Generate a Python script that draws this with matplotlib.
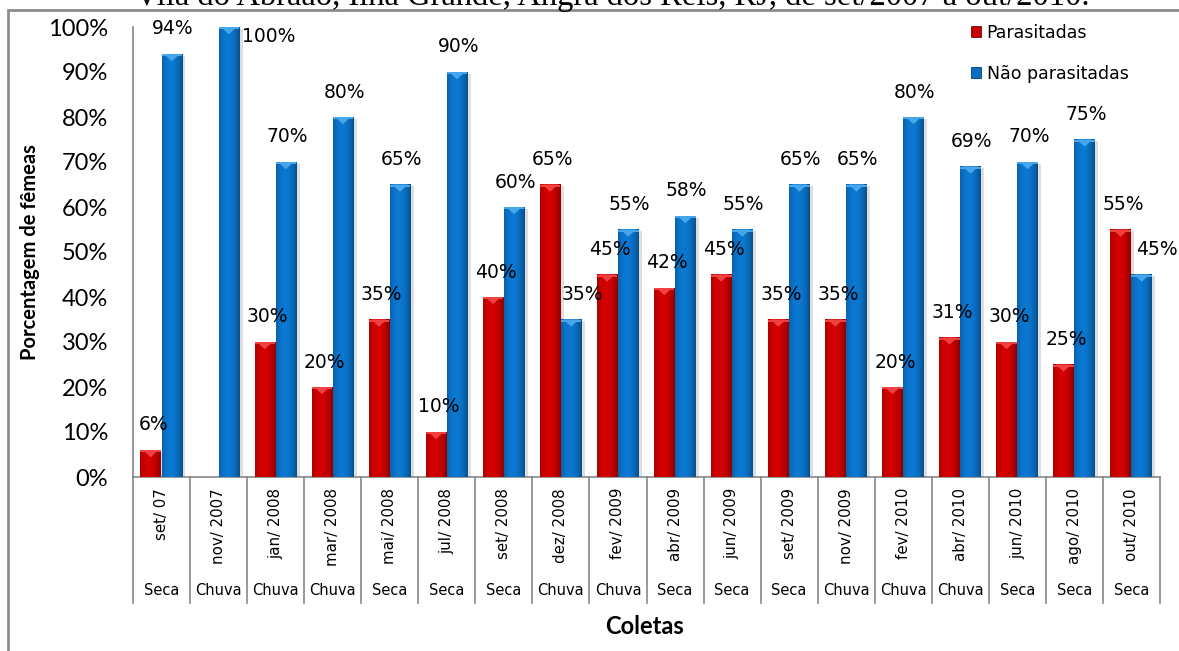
import numpy as np
import matplotlib
matplotlib.use("Agg")
import matplotlib.pyplot as plt
import matplotlib.colors as mcolors
from matplotlib.patches import Rectangle, Polygon
from matplotlib.transforms import blended_transform_factory

# ---- data ----
coletas = ["set/ 07", "nov/ 2007", "jan/ 2008", "mar/ 2008", "mai/ 2008", "jul/ 2008",
           "set/ 2008", "dez/ 2008", "fev/ 2009", "abr/ 2009", "jun/ 2009", "set/ 2009",
           "nov/ 2009", "fev/ 2010", "abr/ 2010", "jun/ 2010", "ago/ 2010", "out/ 2010"]
estacao = ["Seca", "Chuva", "Chuva", "Chuva", "Seca", "Seca", "Seca", "Chuva", "Chuva",
           "Seca", "Seca", "Seca", "Chuva", "Chuva", "Chuva", "Seca", "Seca", "Seca"]
parasitadas = [6, 0, 30, 20, 35, 10, 40, 65, 45, 42, 45, 35, 35, 20, 31, 30, 25, 55]
nao_parasitadas = [94, 100, 70, 80, 65, 90, 60, 35, 55, 58, 55, 65, 65, 80, 69, 70, 75, 45]
y_ticks = [0, 10, 20, 30, 40, 50, 60, 70, 80, 90, 100]
series_names = ["Parasitadas", "Não parasitadas"]
titulo = "Vila do Abraão, Ilha Grande, Angra dos Reis, RJ, de set/2007 a out/2010."

RED, RED_CAP = "#C40000", "#F04040"
BLUE, BLUE_CAP = "#0A6FC2", "#45A6EC"
GRAY = "#878787"
LABEL_FONT = "DejaVu Sans"
AXIS_FONT = "Lato"

W, H = 1179, 651
fig = plt.figure(figsize=(W / 100, H / 100), dpi=100)
ax = fig.add_axes([133 / W, (H - 477) / H, (1160 - 133) / W, 450 / H])
trans_xa = blended_transform_factory(ax.transData, ax.transAxes)

x = np.arange(len(coletas))
bw = 0.36
bars_r = ax.bar(x - 0.19, parasitadas, bw, color=RED, linewidth=0, zorder=3)
bars_b = ax.bar(x + 0.18, nao_parasitadas, bw, color=BLUE, linewidth=0, zorder=3)


def shade(rect, base, cap):
    """Give a bar a rounded, bevelled look: horizontal gradient, top cap and soft shadow."""
    x0, w, h = rect.get_x(), rect.get_width(), rect.get_height()
    if h <= 0:
        return
    ax.add_patch(Rectangle((x0 + 0.06, 0), w, h - 0.4, color="black", alpha=0.13,
                           linewidth=0, zorder=2))
    p = np.linspace(-1, 1, 64)
    f = 0.80 + 0.28 * (1 - np.abs(p + 0.15) ** 2)
    rgb = np.clip(np.array(mcolors.to_rgb(base))[None, :] * f[:, None], 0, 1)
    img = np.concatenate([rgb, np.ones((64, 1))], axis=1)[None, :, :]
    ax.imshow(img, extent=(x0, x0 + w, 0, h), aspect="auto", interpolation="bilinear",
              zorder=3.2)
    c = 1.6
    ax.add_patch(Rectangle((x0, h - 0.5), w, 0.5, color=cap, linewidth=0, zorder=3.4))
    ax.add_patch(Polygon([(x0 + 0.12 * w, h), (x0 + 0.88 * w, h), (x0 + 0.5 * w, h - c)],
                         closed=True, color=cap, linewidth=0, zorder=3.4))


for r in bars_r:
    shade(r, RED, RED_CAP)
for r in bars_b:
    shade(r, BLUE, BLUE_CAP)

ax.set_xlim(-0.5, len(coletas) - 0.5)
ax.set_ylim(0, 100)

# value labels (a few are nudged to avoid overlaps)
VAL_SIZE = 13.5
nudge_b = {1: "side", 7: (7, 0), 17: (10, 0)}
for r, v in zip(bars_r, parasitadas):
    if v == 0:
        continue
    ax.annotate(f"{v}%", (r.get_x() + r.get_width() / 2, v), xytext=(2, 18),
                textcoords="offset points", ha="center", va="center",
                fontsize=VAL_SIZE, family=LABEL_FONT, zorder=5)
for i, (r, v) in enumerate(zip(bars_b, nao_parasitadas)):
    if nudge_b.get(i) == "side":
        ax.annotate(f"{v}%", (r.get_x() + r.get_width(), v), xytext=(2, -7),
                    textcoords="offset points", ha="left", va="center",
                    fontsize=VAL_SIZE, family=LABEL_FONT, zorder=5)
        continue
    dx, dy = nudge_b.get(i, (0, 0))
    ax.annotate(f"{v}%", (r.get_x() + r.get_width() / 2, v), xytext=(1 + dx, 18 + dy),
                textcoords="offset points", ha="center", va="center",
                fontsize=VAL_SIZE, family=LABEL_FONT, zorder=5)

# axes styling
for s in ("top", "right"):
    ax.spines[s].set_visible(False)
for s in ("left", "bottom"):
    ax.spines[s].set_color(GRAY)
    ax.spines[s].set_linewidth(1.2)
ax.set_yticks(y_ticks, [f"{t}%" for t in y_ticks])
ax.tick_params(axis="y", length=0, pad=18, labelsize=17)
for t in ax.get_yticklabels():
    t.set_family(AXIS_FONT)

ax.set_xticks(x, coletas, rotation=90)
ax.tick_params(axis="x", length=0, pad=8, labelsize=10.8)
for t in ax.get_xticklabels():
    t.set_family(LABEL_FONT)

# two-level category axis: separators and season row
for b in np.arange(-0.5, len(coletas), 1.0):
    ax.plot([b, b], [0, -0.28], transform=trans_xa, color=GRAY, lw=1.2,
            clip_on=False, zorder=1)
for i, s in enumerate(estacao):
    ax.text(i, -0.253, s, transform=trans_xa, ha="center", va="center",
            fontsize=10.5, family=LABEL_FONT)

# legend
handles = [Rectangle((0, 0), 1, 1, fc=RED, ec="#7a0000", lw=0.6),
           Rectangle((0, 0), 1, 1, fc=BLUE, ec="#0a3e70", lw=0.6)]
fig.legend(handles, series_names, loc="upper left", bbox_to_anchor=(971 / W, 1 - 24 / H),
           frameon=False, prop={"family": LABEL_FONT, "size": 12.5}, handlelength=0.6,
           handleheight=0.6, handletextpad=0.3, labelspacing=1.3, borderaxespad=0,
           borderpad=0)

# axis titles
fig.text(30 / W, 1 - 252 / H, "Porcentagem de fêmeas", rotation=90, ha="center",
         va="center", fontweight="bold", family=AXIS_FONT, size=14.5)
fig.text(645 / W, 1 - 627 / H, "Coletas", ha="center", va="center", fontweight="bold",
         family=AXIS_FONT, size=17)

# outer frame and heading
fig.add_artist(Rectangle((8 / W, -0.05), 1.1, 1 - 10 / H + 0.05, transform=fig.transFigure,
                         fill=False, ec="#8c8c8c", lw=2))
fig.text(612 / W, 1 - 5 / H, titulo, ha="center", va="baseline",
         family="Liberation Serif", size=23.5)

fig.savefig("out.png", dpi=100)
